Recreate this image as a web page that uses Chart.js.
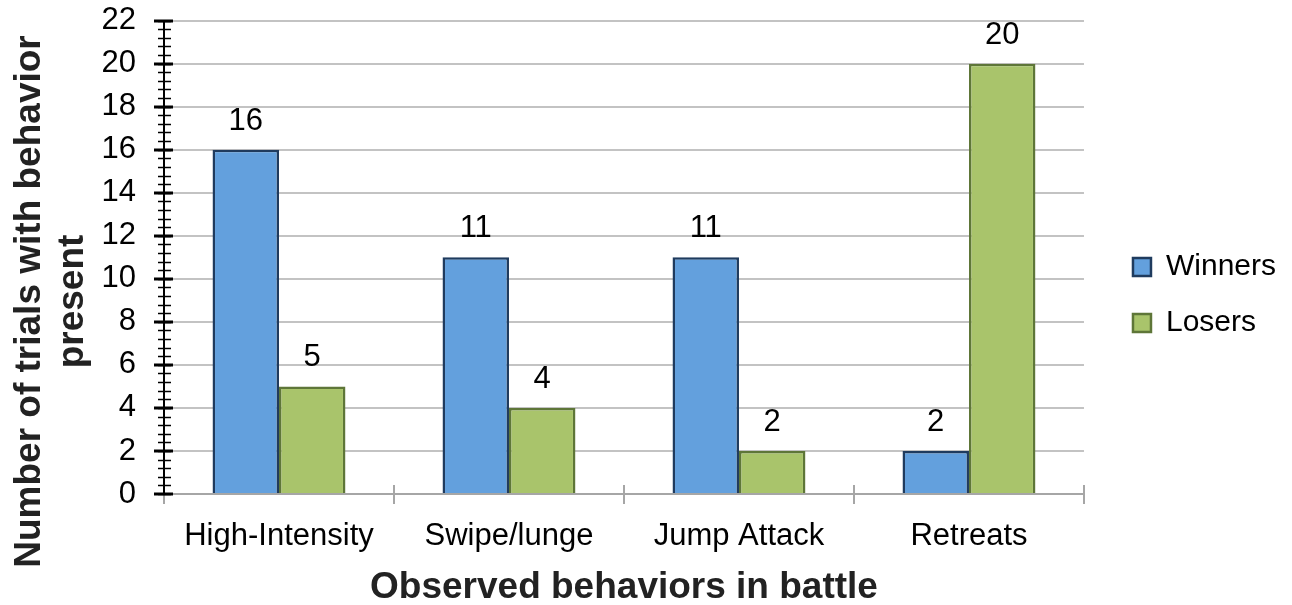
<!DOCTYPE html>
<html>
<head>
<meta charset="utf-8">
<script src="https://cdn.jsdelivr.net/npm/chart.js@4"></script>
<style>
html,body{margin:0;padding:0;background:#fff;}
#wrap{width:1292px;height:605px;position:relative;}
</style>
</head>
<body>
<div id="wrap"><canvas id="c" width="1292" height="605"></canvas></div>
<script>
const categories = ["High-Intensity", "Swipe/lunge", "Jump Attack", "Retreats"];
const winners = [16, 11, 11, 2];
const losers = [5, 4, 2, 20];
const seriesNames = ["Winners", "Losers"];
const yTitle = ["Number of trials with behavior", "present"];
const xTitle = "Observed behaviors in battle";
const yMax = 22, yStep = 2, yMinorStep = 0.4;

const FONT = "'Liberation Sans', Arial, sans-serif";

const labelPlugin = {
  id: 'barLabels',
  afterDatasetsDraw(chart) {
    const ctx = chart.ctx;
    ctx.save();
    ctx.font = "31px " + FONT;
    ctx.fillStyle = "#000";
    ctx.textAlign = "center";
    ctx.textBaseline = "bottom";
    chart.data.datasets.forEach((ds, i) => {
      const meta = chart.getDatasetMeta(i);
      meta.data.forEach((bar, j) => {
        ctx.fillText(String(ds.data[j]), bar.x, bar.y - 13);
      });
    });
    ctx.restore();
  }
};

const yTitlePlugin = {
  id: 'yTitle',
  afterDraw(chart) {
    const ctx = chart.ctx;
    const cy = chart.height / 2 - 1;
    ctx.save();
    ctx.font = "bold 37px " + FONT;
    ctx.fillStyle = "#222";
    ctx.textAlign = "center";
    ctx.textBaseline = "alphabetic";
    yTitle.forEach((line, i) => {
      ctx.save();
      ctx.translate(40 + i * 43, cy);
      ctx.rotate(-Math.PI / 2);
      ctx.fillText(line, 0, 0);
      ctx.restore();
    });
    ctx.restore();
  }
};

const axisPlugin = {
  id: 'axisTicks',
  afterDraw(chart) {
    const ctx = chart.ctx;
    const y = chart.scales.y;
    const ca = chart.chartArea;
    const y0 = Math.round(y.getPixelForValue(0));
    ctx.save();
    // x axis line (gray)
    ctx.strokeStyle = "#a6a6a6";
    ctx.lineWidth = 2;
    ctx.beginPath();
    ctx.moveTo(ca.left, y0);
    ctx.lineTo(ca.right, y0);
    ctx.stroke();
    // x category boundary ticks
    const n = categories.length;
    const w = (ca.right - ca.left) / n;
    for (let i = 0; i <= n; i++) {
      const px = Math.round(ca.left + i * w);
      ctx.beginPath();
      ctx.moveTo(px, y0 - 9);
      ctx.lineTo(px, y0 + 10);
      ctx.stroke();
    }
    // y axis line (black)
    ctx.strokeStyle = "#000";
    ctx.lineWidth = 2;
    ctx.beginPath();
    ctx.moveTo(ca.left, y.getPixelForValue(yMax));
    ctx.lineTo(ca.left, y0);
    ctx.stroke();
    // minor ticks
    ctx.lineWidth = 1.5;
    const steps = Math.round(yMax / yMinorStep);
    for (let k = 0; k <= steps; k++) {
      const v = k * yMinorStep;
      const py = Math.round(y.getPixelForValue(v)) + 0.5;
      ctx.beginPath();
      ctx.moveTo(ca.left - 6, py);
      ctx.lineTo(ca.left + 7, py);
      ctx.stroke();
    }
    // major ticks
    ctx.lineWidth = 3;
    for (let v = 0; v <= yMax; v += yStep) {
      const py = Math.round(y.getPixelForValue(v));
      ctx.beginPath();
      ctx.moveTo(ca.left - 10, py);
      ctx.lineTo(ca.left + 9, py);
      ctx.stroke();
    }
    ctx.restore();
  }
};

new Chart(document.getElementById('c'), {
  type: 'bar',
  data: {
    labels: categories,
    datasets: [
      { label: seriesNames[0], data: winners, backgroundColor: "#63a0dd", borderColor: "#1f3b5e", borderWidth: 2.5, borderSkipped: 'bottom', categoryPercentage: 0.578, barPercentage: 1.0 },
      { label: seriesNames[1], data: losers, backgroundColor: "#a9c46b", borderColor: "#5e7638", borderWidth: 2.5, borderSkipped: 'bottom', categoryPercentage: 0.578, barPercentage: 1.0 }
    ]
  },
  options: {
    responsive: false,
    animation: false,
    devicePixelRatio: 1,
    layout: { padding: { top: 0, left: 0, right: 6, bottom: 15 } },
    plugins: {
      legend: {
        position: 'right',
        align: 'center',
        labels: {
          font: { family: FONT, size: 30 },
          color: "#000",
          boxWidth: 18,
          boxHeight: 18,
          padding: 26,
          useBorderRadius: false
        }
      },
      tooltip: { enabled: false }
    },
    scales: {
      x: {
        grid: { display: false, drawTicks: false },
        border: { display: false },
        ticks: { font: { family: FONT, size: 31, lineHeight: 1.2 }, color: "#000", padding: 24, maxRotation: 0, autoSkip: false },
        title: { display: true, text: xTitle, font: { family: FONT, size: 37, weight: 'bold', lineHeight: 1.2 }, color: "#222", padding: { top: 0, bottom: -20 } },
        afterFit(s) { s.height = 96; }
      },
      y: {
        min: 0, max: yMax,
        ticks: { stepSize: yStep, font: { family: FONT, size: 31, lineHeight: 1.2 }, color: "#000", padding: 2, autoSkip: false },
        grid: { color: "#c3c3c3", lineWidth: 2, drawTicks: true, tickLength: 26, tickColor: "rgba(0,0,0,0)" },
        border: { display: false },
        title: { display: false },
        afterFit(s) { s.width = 164; }
      },
      gap: {
        type: 'linear',
        position: 'right',
        display: true,
        grid: { display: false, drawTicks: false },
        border: { display: false },
        ticks: { display: false },
        afterFit(s) { s.width = 23; }
      }
    }
  },
  plugins: [labelPlugin, axisPlugin, yTitlePlugin]
});
</script>
</body>
</html>
